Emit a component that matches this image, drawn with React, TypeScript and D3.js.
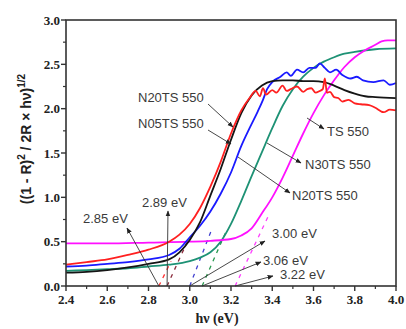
import React from 'react';
import * as d3 from 'd3';

// ---------- data ----------
const xMajorTicks = [2.4, 2.6, 2.8, 3.0, 3.2, 3.4, 3.6, 3.8, 4.0];
const xMinorTicks = [2.5, 2.7, 2.9, 3.1, 3.3, 3.5, 3.7, 3.9];
const yMajorTicks = [0, 0.5, 1.0, 1.5, 2.0, 2.5, 3.0];
const yMinorTicks = [0.25, 0.75, 1.25, 1.75, 2.25, 2.75];

const redSeries: [number, number][] = [
  [2.40, 0.24], [2.50, 0.27], [2.60, 0.30], [2.70, 0.35], [2.80, 0.41], [2.90, 0.50],
  [2.95, 0.58], [3.00, 0.70], [3.05, 0.88], [3.10, 1.12], [3.15, 1.40], [3.20, 1.72],
  [3.25, 1.98], [3.29, 2.12], [3.32, 2.20], [3.34, 2.14], [3.355, 2.23], [3.37, 2.16],
  [3.40, 2.21], [3.42, 2.18], [3.45, 2.26], [3.47, 2.20], [3.49, 2.22], [3.52, 2.25],
  [3.55, 2.19], [3.57, 2.22], [3.59, 2.23], [3.61, 2.18], [3.63, 2.20], [3.645, 2.22],
  [3.655, 2.34], [3.665, 2.18], [3.68, 2.19], [3.70, 2.13], [3.72, 2.12], [3.74, 2.08],
  [3.77, 2.10], [3.80, 2.06], [3.83, 2.05], [3.87, 2.04], [3.90, 2.01], [3.94, 1.96],
  [3.97, 1.99], [4.00, 1.98],
];

const blackSeries: [number, number][] = [
  [2.40, 0.15], [2.50, 0.16], [2.60, 0.18], [2.70, 0.21], [2.80, 0.25], [2.90, 0.30],
  [2.95, 0.38], [3.00, 0.52], [3.05, 0.72], [3.10, 1.02], [3.15, 1.32], [3.20, 1.65],
  [3.25, 1.95], [3.30, 2.15], [3.35, 2.26], [3.40, 2.31], [3.45, 2.32], [3.50, 2.32],
  [3.55, 2.31], [3.60, 2.31], [3.65, 2.30], [3.70, 2.26], [3.75, 2.21], [3.80, 2.17],
  [3.85, 2.14], [3.90, 2.13], [4.00, 2.12],
];

const blueSeries: [number, number][] = [
  [2.40, 0.22], [2.50, 0.23], [2.60, 0.25], [2.70, 0.27], [2.80, 0.30], [2.90, 0.35],
  [2.95, 0.42], [3.00, 0.55], [3.05, 0.68], [3.10, 0.84], [3.15, 1.04], [3.20, 1.28],
  [3.25, 1.58], [3.29, 1.78], [3.33, 1.97], [3.355, 2.10], [3.375, 2.22], [3.40, 2.30],
  [3.44, 2.36], [3.47, 2.41], [3.49, 2.37], [3.52, 2.44], [3.55, 2.41], [3.58, 2.46],
  [3.61, 2.46], [3.63, 2.51], [3.655, 2.46], [3.68, 2.41], [3.71, 2.44], [3.74, 2.38],
  [3.78, 2.34], [3.81, 2.36], [3.84, 2.32], [3.89, 2.30], [3.94, 2.32], [3.97, 2.27],
  [4.00, 2.29],
];

const tealSeries: [number, number][] = [
  [2.40, 0.17], [2.50, 0.18], [2.60, 0.19], [2.70, 0.20], [2.80, 0.22], [2.90, 0.24],
  [3.00, 0.28], [3.05, 0.32], [3.10, 0.38], [3.15, 0.50], [3.20, 0.70], [3.25, 0.96],
  [3.30, 1.24], [3.35, 1.51], [3.40, 1.78], [3.45, 2.03], [3.50, 2.22], [3.55, 2.36],
  [3.60, 2.46], [3.65, 2.53], [3.70, 2.58], [3.75, 2.62], [3.80, 2.64], [3.90, 2.67],
  [4.00, 2.68],
];

const magentaSeries: [number, number][] = [
  [2.40, 0.48], [2.60, 0.48], [2.80, 0.49], [3.00, 0.50], [3.10, 0.51], [3.20, 0.53],
  [3.25, 0.57], [3.30, 0.65], [3.35, 0.82], [3.40, 1.00], [3.45, 1.22], [3.50, 1.47],
  [3.55, 1.72], [3.60, 1.95], [3.65, 2.15], [3.70, 2.32], [3.75, 2.47], [3.80, 2.58],
  [3.85, 2.66], [3.90, 2.72], [3.93, 2.76], [3.96, 2.77], [4.00, 2.77],
];

const gapValues = [2.85, 2.89, 3.00, 3.06, 3.22];
const gapLabels = ['2.85 eV', '2.89 eV', '3.00 eV', '3.06 eV', '3.22 eV'];
const tangentTopY = [0.28, 0.52, 0.62, 0.62, 0.82];
const tangentSlope = [4.7, 5.1, 6.0, 5.3, 4.9];

const sampleLabels = ['N20TS 550', 'N05TS 550', 'TS 550', 'N30TS 550', 'N20TS 550'];

// ---------- layout / style ----------
const W = 406, H = 329;
const L = 66, R = 396, T = 20, B = 286;

const seriesList = [
  { data: tealSeries, color: '#1e9275' },
  { data: magentaSeries, color: '#ff10ff' },
  { data: blueSeries, color: '#1a1aff' },
  { data: blackSeries, color: '#151515' },
  { data: redSeries, color: '#ff2020' },
];
const tangentColors = ['#ff3030', '#8a2a3a', '#4040d0', '#2a9a50', '#ff40ff'];

// label positions: [textX, baselineY, lineX1, lineY1, lineX2, lineY2, arrowAtEnd]
const gapLabelPos: { tx: number; ty: number; ex: number; ey: number }[] = [
  { tx: 83, ty: 223, ex: 127, ey: 228 },
  { tx: 142, ty: 207, ex: 168, ey: 211 },
  { tx: 272, ty: 238, ex: 265, ey: 241 },
  { tx: 263, ty: 265, ex: 261, ey: 262 },
  { tx: 280, ty: 279, ex: 273, ey: 276 },
];
const sampleLabelPos = [
  { tx: 138, ty: 102, x1: 208, y1: 104, x2: 233, y2: 127 },
  { tx: 138, ty: 128, x1: 208, y1: 130, x2: 231, y2: 144 },
  { tx: 327, ty: 136, x1: 307, y1: 118, x2: 324, y2: 129 },
  { tx: 305, ty: 169, x1: 267, y1: 143, x2: 301, y2: 163 },
  { tx: 292, ty: 200, x1: 238, y1: 157, x2: 290, y2: 193 },
];

export default function App() {
  const x = d3.scaleLinear().domain([2.4, 4.0]).range([L, R]);
  const y = d3.scaleLinear().domain([0, 3.0]).range([B, T]);
  const line = d3
    .line<[number, number]>()
    .x((d) => x(d[0]))
    .y((d) => y(d[1]))
    .curve(d3.curveMonotoneX);

  const serif = '"Liberation Serif", "Times New Roman", serif';
  const sans = '"Liberation Sans", Arial, sans-serif';
  const annColor = '#3a3a3a';

  return (
    <svg
      width={W}
      height={H}
      style={{ position: 'absolute', left: 0, top: 0, background: '#fff' }}
    >
      <defs>
        <marker id="ah" viewBox="0 0 10 10" refX="9" refY="5" markerWidth="6" markerHeight="6"
          markerUnits="userSpaceOnUse" orient="auto">
          <path d="M0,1 L10,5 L0,9 z" fill="#222" />
        </marker>
      </defs>
      <rect x={0} y={0} width={W} height={H} fill="#fff" />

      {/* tangent dashed lines */}
      {gapValues.map((g, i) => {
        const topY = tangentTopY[i];
        const topX = g + topY / tangentSlope[i];
        return (
          <line key={'tg' + i} x1={x(g)} y1={y(0)} x2={x(topX)} y2={y(topY)}
            stroke={tangentColors[i]} strokeWidth={1.3} strokeDasharray="4 5" />
        );
      })}

      {/* series */}
      {seriesList.map((s, i) => (
        <path key={'s' + i} d={line(s.data) || ''} fill="none" stroke={s.color}
          strokeWidth={1.8} strokeLinejoin="round" />
      ))}

      {/* gap arrows */}
      {gapValues.map((g, i) => {
        const p = gapLabelPos[i];
        return (
          <g key={'ga' + i}>
            <line x1={x(g)} y1={y(0)} x2={p.ex} y2={p.ey} stroke="#333" strokeWidth={0.9}
              markerEnd="url(#ah)" />
            <text x={p.tx} y={p.ty} fontFamily={sans} fontSize={13} fill={annColor}>
              {gapLabels[i]}
            </text>
          </g>
        );
      })}

      {/* sample labels */}
      {sampleLabels.map((lab, i) => {
        const p = sampleLabelPos[i];
        return (
          <g key={'sl' + i}>
            <line x1={p.x1} y1={p.y1} x2={p.x2} y2={p.y2} stroke="#333" strokeWidth={0.9}
              markerEnd="url(#ah)" />
            <text x={p.tx} y={p.ty} fontFamily={sans} fontSize={13} fill={annColor}>
              {lab}
            </text>
          </g>
        );
      })}

      {/* frame */}
      <rect x={L} y={T} width={R - L} height={B - T} fill="none" stroke="#333" strokeWidth={1.6} />

      {/* x ticks */}
      {xMajorTicks.map((t) => (
        <g key={'xt' + t}>
          <line x1={x(t)} x2={x(t)} y1={B} y2={B + 5} stroke="#333" strokeWidth={1.4} />
          <text x={x(t)} y={304} textAnchor="middle" fontFamily={serif} fontWeight="bold"
            fontSize={13} fill="#222">{t.toFixed(1)}</text>
        </g>
      ))}
      {xMinorTicks.map((t) => (
        <line key={'xm' + t} x1={x(t)} x2={x(t)} y1={B} y2={B + 3} stroke="#333" strokeWidth={1.2} />
      ))}

      {/* y ticks */}
      {yMajorTicks.map((t) => (
        <g key={'yt' + t}>
          <line x1={L - 5} x2={L} y1={y(t)} y2={y(t)} stroke="#333" strokeWidth={1.4} />
          <text x={L - 6} y={y(t) + 4.5} textAnchor="end" fontFamily={serif} fontWeight="bold"
            fontSize={13} fill="#222">{t.toFixed(1)}</text>
        </g>
      ))}
      {yMinorTicks.map((t) => (
        <line key={'ym' + t} x1={L - 3} x2={L} y1={y(t)} y2={y(t)} stroke="#333" strokeWidth={1.2} />
      ))}

      {/* axis titles */}
      <text x={217} y={323} textAnchor="middle" fontFamily={serif} fontWeight="bold" fontSize={14}
        fill="#222">hν (eV)</text>
      <text transform="translate(31,139) rotate(-90)" textAnchor="middle" fontFamily={sans}
        fontWeight="bold" fontSize={14} fill="#222">
        ((1 - R)<tspan dy={-6} fontSize={10}>2</tspan>
        <tspan dy={6}> / 2R × hν)</tspan>
        <tspan dy={-6} fontSize={10}>1/2</tspan>
      </text>
    </svg>
  );
}
